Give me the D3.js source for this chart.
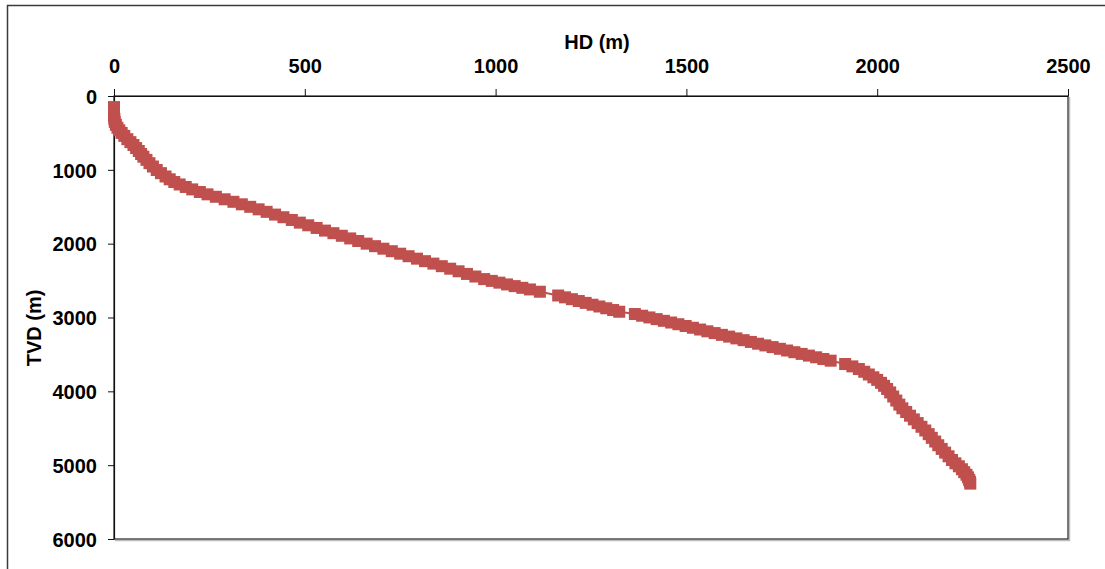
<!DOCTYPE html>
<html>
<head>
<meta charset="utf-8">
<script src="https://cdn.jsdelivr.net/npm/d3@7"></script>
<style>
  body { margin: 0; background: #fff; }
  svg { display: block; font-family: "Liberation Sans", Arial, sans-serif; }
</style>
</head>
<body>
<div id="chart"></div>
<script>
// Well path: horizontal displacement (m) and true vertical depth (m)
const hd = [
  0, 0, 0, 0, 1, 2, 5, 9, 14, 20, 27, 35, 43, 51, 58, 65, 71, 77, 85, 93, 102, 112,
  123, 135, 146, 158, 172, 188, 205, 225, 245, 267, 290, 313, 335, 357, 379, 400,
  422, 444, 466, 487, 509, 531, 553, 575, 597, 619, 640, 662, 684, 706, 728, 750,
  772, 794, 815, 837, 859, 881, 903, 925, 947, 970, 990, 1010, 1030, 1050, 1070, 1090, 1116,
  1164, 1182, 1200, 1218, 1236, 1254, 1272, 1290, 1308, 1324,
  1365, 1384, 1403, 1422, 1441, 1460, 1479, 1498, 1517, 1536, 1555, 1574, 1593, 1612,
  1631, 1650, 1669, 1688, 1707, 1726, 1745, 1764, 1783, 1802, 1821, 1840, 1859, 1878,
  1916, 1935, 1952, 1966, 1978, 1990, 2000, 2010, 2018, 2026, 2034, 2042, 2050, 2058,
  2066, 2076, 2086, 2096, 2106, 2116, 2126, 2135, 2143, 2152, 2160, 2169, 2178, 2187,
  2196, 2205, 2214, 2222, 2228, 2234, 2238, 2241, 2243, 2244
];
const tvd = [
  150, 190, 230, 270, 310, 350, 390, 430, 465, 500, 540, 585, 625, 664, 705, 745, 785, 822, 865, 910, 955, 1002,
  1045, 1090, 1128, 1165, 1198, 1232, 1265, 1300, 1332, 1365, 1399, 1433, 1467, 1501, 1535, 1569,
  1606, 1642, 1679, 1715, 1751, 1787, 1823, 1858, 1893, 1929, 1964, 2000, 2034, 2068, 2102, 2136,
  2170, 2203, 2237, 2270, 2305, 2339, 2374, 2410, 2445, 2480, 2504, 2528, 2552, 2575, 2598, 2620, 2651,
  2702, 2727, 2752, 2777, 2802, 2827, 2851, 2875, 2899, 2922,
  2953, 2976, 2999, 3022, 3045, 3068, 3091, 3115, 3139, 3163, 3187, 3211, 3235, 3259,
  3283, 3307, 3331, 3355, 3378, 3401, 3424, 3447, 3470, 3493, 3516, 3539, 3562, 3585,
  3630, 3662, 3698, 3735, 3772, 3810, 3845, 3885, 3925, 3968, 4015, 4070, 4125, 4180,
  4230, 4280, 4330, 4380, 4430, 4480, 4530, 4580, 4630, 4680, 4730, 4780, 4830, 4880,
  4930, 4975, 5015, 5055, 5095, 5130, 5165, 5200, 5225, 5250
];
const xTicks = [0, 500, 1000, 1500, 2000, 2500];
const yTicks = [0, 1000, 2000, 3000, 4000, 5000, 6000];

const width = 1105, height = 569;
const margin = {top: 96, right: 37, bottom: 30, left: 114};
const innerW = width - margin.left - margin.right;
const innerH = height - margin.top - margin.bottom;
const color = "#C0504D";

const root = d3.select("#chart").append("svg")
    .attr("width", width)
    .attr("height", height);

// chart area frame (runs off the right and bottom edge)
root.append("rect")
    .attr("x", 7.5).attr("y", 5.5)
    .attr("width", width).attr("height", height)
    .attr("fill", "none")
    .attr("stroke", "#3a3a3a")
    .attr("stroke-width", 1.5);

const svg = root.append("g")
    .attr("transform", `translate(${margin.left},${margin.top})`);

const x = d3.scaleLinear().domain([0, 2500]).range([0, innerW]);
const y = d3.scaleLinear().domain([0, 6000]).range([0, innerH]);

// plot area border with a soft shadow on right/bottom
svg.append("path")
    .attr("d", `M${innerW + 1.5},1 V${innerH + 1.5} H1`)
    .attr("fill", "none").attr("stroke", "#bdbdbd").attr("stroke-width", 1.5);
svg.append("rect")
    .attr("width", innerW).attr("height", innerH)
    .attr("fill", "none").attr("stroke", "#222").attr("stroke-width", 1.2);

// axes
const xAxis = svg.append("g")
    .call(d3.axisTop(x).tickValues(xTicks).tickFormat(d3.format("d"))
        .tickSize(7).tickSizeOuter(0).tickPadding(16));
const yAxis = svg.append("g")
    .call(d3.axisLeft(y).tickValues(yTicks).tickFormat(d3.format("d"))
        .tickSize(6).tickSizeOuter(0).tickPadding(11));
[xAxis, yAxis].forEach(a => {
    a.select(".domain").attr("stroke", "#111").attr("stroke-width", 1.2);
    a.selectAll(".tick line").attr("stroke", "#111");
    a.selectAll("text")
        .attr("fill", "#000")
        .style("font-size", "20px")
        .style("font-weight", "bold")
        .style("font-family", "'Liberation Sans', Arial, sans-serif");
});
yAxis.selectAll("text").attr("dy", "0.36em");

// axis titles
root.append("text")
    .attr("x", 597).attr("y", 49)
    .attr("text-anchor", "middle")
    .style("font-size", "20px").style("font-weight", "bold")
    .text("HD (m)");
root.append("text")
    .attr("transform", "translate(41,328) rotate(-90)")
    .attr("text-anchor", "middle")
    .style("font-size", "20px").style("font-weight", "bold")
    .text("TVD (m)");

// series
const pts = hd.map((d, i) => [d, tvd[i]]);
svg.append("path")
    .datum(pts)
    .attr("fill", "none")
    .attr("stroke", color)
    .attr("stroke-width", 2)
    .attr("d", d3.line().x(d => x(d[0])).y(d => y(d[1])));

const ms = 12;
svg.selectAll(".pt")
    .data(pts)
    .enter().append("rect")
    .attr("class", "pt")
    .attr("x", d => x(d[0]) - ms / 2)
    .attr("y", d => y(d[1]) - ms / 2)
    .attr("width", ms)
    .attr("height", ms)
    .attr("fill", color);
</script>
</body>
</html>
